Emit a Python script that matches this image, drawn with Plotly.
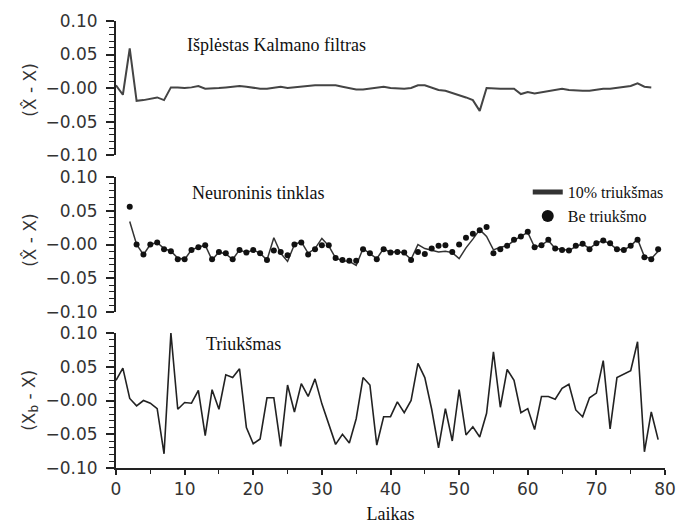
import plotly.graph_objects as go
from plotly.subplots import make_subplots

# ---- data ----
t_kalman = list(range(0, 79))
kalman_err = [0.004, -0.010, 0.059, -0.019, -0.018, -0.016, -0.014, -0.018, 0.001, 0.001,
              0.000, 0.001, 0.003, -0.001, -0.001, 0.000, 0.001, 0.002, 0.003, 0.002,
              0.000, -0.001, -0.001, 0.001, 0.002, 0.000, 0.001, 0.002, 0.004, 0.004,
              0.004, 0.004, 0.004, 0.002, 0.000, -0.002, -0.002, -0.001, 0.000, 0.002,
              0.000, -0.001, -0.001, 0.000, 0.004, 0.004, 0.001, -0.003, -0.004, -0.007,
              -0.010, -0.014, -0.018, -0.034, 0.000, -0.001, -0.001, -0.001, -0.001, -0.009,
              -0.006, -0.008, -0.006, -0.004, -0.002, -0.001, -0.003, -0.004, -0.004, -0.004,
              -0.002, -0.001, -0.001, 0.000, 0.001, 0.003, 0.007, 0.002, 0.001]

t_nn = list(range(2, 80))
nn_clean = [0.056, 0.000, -0.015, 0.000, 0.003, -0.007, -0.010, -0.022, -0.022, -0.008,
            -0.004, -0.001, -0.022, -0.011, -0.013, -0.022, -0.008, -0.012, -0.008, -0.013,
            -0.023, -0.009, -0.011, -0.016, 0.000, 0.003, -0.015, -0.007, -0.001, -0.001,
            -0.020, -0.023, -0.024, -0.024, -0.007, -0.013, -0.022, -0.007, -0.012, -0.011,
            -0.012, -0.023, -0.011, -0.014, -0.006, -0.002, -0.001, -0.011, 0.000, 0.010,
            0.016, 0.021, 0.026, -0.013, -0.007, -0.002, 0.007, 0.012, 0.019, -0.004,
            -0.001, 0.007, -0.006, -0.008, -0.009, -0.002, 0.001, -0.007, 0.002, 0.006,
            0.002, -0.007, -0.008, -0.002, 0.007, -0.019, -0.022, -0.007]
nn_noisy = [0.034, 0.000, -0.015, 0.000, 0.003, -0.006, -0.010, -0.020, -0.022, -0.008,
            -0.004, -0.001, -0.023, -0.011, -0.014, -0.022, -0.008, -0.012, -0.008, -0.013,
            -0.023, 0.010, -0.013, -0.025, 0.000, 0.004, -0.013, -0.006, 0.009, -0.002,
            -0.020, -0.024, -0.025, -0.031, -0.006, -0.013, -0.021, -0.006, -0.012, -0.010,
            -0.013, -0.022, 0.000, -0.006, -0.008, -0.011, -0.010, -0.012, -0.021, -0.005,
            0.008, 0.022, 0.012, -0.008, -0.004, -0.002, 0.006, 0.012, 0.018, -0.004,
            -0.001, 0.006, -0.006, -0.007, -0.009, -0.003, 0.001, -0.006, 0.002, 0.006,
            0.001, -0.007, -0.008, -0.002, 0.008, -0.018, -0.021, -0.010]

t_noise = list(range(0, 80))
noise = [0.030, 0.048, 0.003, -0.008, 0.000, -0.004, -0.012, -0.079, 0.100, -0.013,
         -0.003, -0.004, 0.015, -0.052, 0.016, -0.013, 0.038, 0.034, 0.047, -0.040,
         -0.064, -0.057, 0.004, 0.004, -0.068, 0.023, -0.017, 0.025, 0.006, 0.032,
         -0.005, -0.034, -0.065, -0.050, -0.063, -0.027, 0.034, 0.023, -0.066, -0.024,
         -0.024, -0.002, -0.018, 0.000, 0.055, 0.034, -0.013, -0.070, -0.012, -0.060,
         0.016, -0.051, -0.039, -0.054, -0.019, 0.072, -0.010, 0.046, 0.030, -0.018,
         -0.012, -0.043, 0.006, 0.006, 0.002, 0.018, 0.024, -0.014, -0.024, 0.004,
         0.011, 0.059, -0.042, 0.034, 0.039, 0.044, 0.087, -0.076, -0.017, -0.058]

zero_label = {"0.00": "\u22120.00"}
panel_labels = ["Išplėstas Kalmano filtras", "Neuroninis tinklas", "Triukšmas"]
y_titles = ["(X\u0302 - X)", "(X\u0302 - X)", "(X<sub>b</sub> - X)"]
legend_names = ["10% triukšmas", "Be triukšmo"]
x_title = "Laikas"

SANS = "DejaVu Sans"
SERIF = "Liberation Serif"
INK = "#222222"

fig = make_subplots(rows=3, cols=1)

fig.add_trace(go.Scatter(x=t_kalman, y=kalman_err, mode="lines",
                         line=dict(color="#444444", width=2), showlegend=False), row=1, col=1)
fig.add_trace(go.Scatter(x=t_nn, y=nn_noisy, mode="lines", name=legend_names[0],
                         line=dict(color="#333333", width=1.5)), row=2, col=1)
fig.add_trace(go.Scatter(x=t_nn, y=nn_clean, mode="markers", name=legend_names[1],
                         marker=dict(color="#111111", size=6)), row=2, col=1)
fig.add_trace(go.Scatter(x=t_noise, y=noise, mode="lines",
                         line=dict(color="#222222", width=1.6), showlegend=False), row=3, col=1)

domains = [[0.700, 1.0], [0.349, 0.651], [0.0, 0.302]]
minor_y = dict(ticks="outside", ticklen=5, tickwidth=1.3, tickcolor=INK, dtick=0.01,
               tick0=0, tickmode="linear", showgrid=False)
for i in range(3):
    ya = "yaxis" if i == 0 else f"yaxis{i+1}"
    xa = "xaxis" if i == 0 else f"xaxis{i+1}"
    fig.layout[ya].update(
        domain=domains[i], range=[-0.10, 0.10], tickmode="linear", tick0=0, dtick=0.05,
        tickformat=".2f", labelalias=zero_label, automargin=False,
        ticks="outside", ticklen=8, tickwidth=1.6, tickcolor=INK,
        showline=True, linecolor=INK, linewidth=2, showgrid=False, zeroline=False,
        tickfont=dict(family=SANS, size=17, color="#333333"), ticklabelstandoff=5,
        minor=minor_y,
    )
    fig.layout[xa].update(range=[0, 80], showgrid=False, zeroline=False, automargin=False)

fig.layout.xaxis.update(visible=False)
fig.layout.xaxis2.update(visible=False)
fig.layout.xaxis3.update(
    showline=True, linecolor=INK, linewidth=2, tickmode="linear", tick0=0, dtick=10,
    ticks="outside", ticklen=5, tickwidth=1.5, tickcolor=INK, ticklabelstandoff=0,
    minor=dict(ticks="outside", ticklen=4, tickwidth=1.3, tickcolor=INK, dtick=5, tick0=0,
               tickmode="linear", showgrid=False),
    tickfont=dict(family=SANS, size=17, color="#333333"),
    title=dict(text=x_title, font=dict(family=SERIF, size=18, color="#111111"), standoff=10),
)

# panel labels
label_pos = [(10.0, 0.064, "y"), (10.8, 0.076, "y2"), (12.8, 0.084, "y3")]
xrefs = ["x", "x2", "x3"]
for i, (lx, ly, yr) in enumerate(label_pos):
    fig.add_annotation(x=lx, y=ly, xref=xrefs[i], yref=yr, text=panel_labels[i],
                       showarrow=False, xanchor="left", yanchor="middle",
                       font=dict(family=SERIF, size=18, color="#111111"))

# y-axis titles
ytitle_y = [0.846, 0.510, 0.152]
for i in range(3):
    fig.add_annotation(x=-0.157, y=ytitle_y[i], xref="paper", yref="paper", text=y_titles[i],
                       showarrow=False, textangle=-90, xanchor="center", yanchor="middle",
                       font=dict(family=SANS, size=17, color="#333333"))

fig.update_layout(
    width=679, height=524,
    margin=dict(l=116, r=14, t=21, b=56, autoexpand=False),
    paper_bgcolor="white", plot_bgcolor="white",
    showlegend=True,
    legend=dict(x=0.750, y=0.655, xanchor="left", yanchor="top", itemsizing="constant",
                font=dict(family=SERIF, size=16, color="#111111"), bgcolor="rgba(0,0,0,0)",
                tracegroupgap=0),
)

fig.write_html("out.html")
